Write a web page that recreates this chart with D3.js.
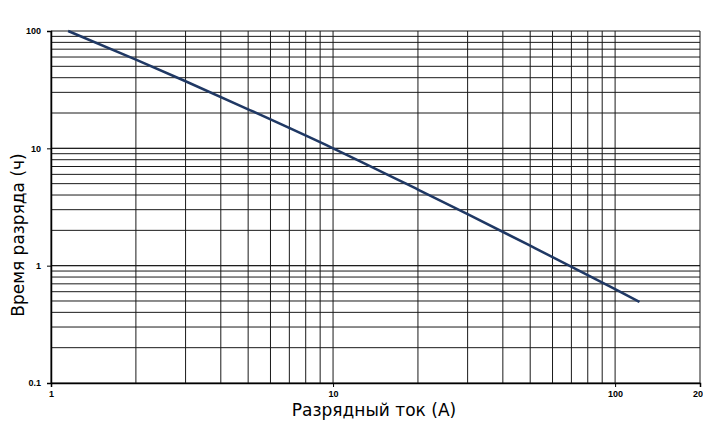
<!DOCTYPE html>
<html>
<head>
<meta charset="utf-8">
<script src="https://cdn.jsdelivr.net/npm/d3@7"></script>
<style>
  body { margin: 0; background: #fff; }
  .tick text { font-family: "Liberation Sans", Arial, sans-serif; font-weight: bold; font-size: 9px; fill: #000; }
  .axisTitle { font-family: "DejaVu Sans", sans-serif; font-size: 17px; fill: #000; }
</style>
</head>
<body>
<div id="chart"></div>
<script>
// Chart data
var currentA = [1.15, 2, 3, 5, 10, 20, 30, 50, 100, 122];
var timeH = [100, 57, 37.3, 21.5, 10, 4.45, 2.75, 1.48, 0.63, 0.49];
var xTickValues = [1, 10, 100, 200];
var yTickValues = [0.1, 1, 10, 100];

var svgWidth = 703;
var svgHeight = 421;

var margin = { top: 31, right: 3, bottom: 38, left: 51 };
var chartWidth = svgWidth - margin.left - margin.right;
var chartHeight = svgHeight - margin.top - margin.bottom;

var svg = d3.select("#chart")
    .append("svg")
    .attr("width", svgWidth)
    .attr("height", svgHeight);

var chartGroup = svg.append("g")
    .attr("transform", `translate(${margin.left}, ${margin.top})`);

var xScale = d3.scaleLog().domain([1, 200]).range([0, chartWidth]);
var yScale = d3.scaleLog().domain([0.1, 100]).range([chartHeight, 0]);

// minor grid values 1..9 per decade
var xGrid = [];
[1, 10, 100].forEach(function (d) {
    for (var i = 1; i <= 9; i++) {
        if (d * i <= 200) xGrid.push(d * i);
    }
});
var yGrid = [];
[0.1, 1, 10].forEach(function (d) {
    for (var i = 1; i <= 10; i++) yGrid.push(+(d * i).toPrecision(3));
});

chartGroup.append("g")
    .selectAll("line")
    .data(xGrid)
    .enter()
    .append("line")
    .attr("x1", d => xScale(d))
    .attr("x2", d => xScale(d))
    .attr("y1", 0)
    .attr("y2", chartHeight)
    .attr("stroke", "#1a1a1a")
    .attr("stroke-width", 1);

chartGroup.append("g")
    .selectAll("line")
    .data(yGrid)
    .enter()
    .append("line")
    .attr("x1", 0)
    .attr("x2", chartWidth)
    .attr("y1", d => yScale(d))
    .attr("y2", d => yScale(d))
    .attr("stroke", "#1a1a1a")
    .attr("stroke-width", 1);

// axes
var bottomAxis = d3.axisBottom(xScale)
    .tickValues(xTickValues)
    .tickFormat(d3.format("d"))
    .tickSize(4)
    .tickPadding(4);
var leftAxis = d3.axisLeft(yScale)
    .tickValues(yTickValues)
    .tickFormat(d => d < 1 ? "0.1" : d3.format("d")(d))
    .tickSize(4)
    .tickPadding(6);

var xAxis = chartGroup.append("g")
    .attr("transform", `translate(0, ${chartHeight})`)
    .call(bottomAxis);
var yAxis = chartGroup.append("g")
    .call(leftAxis);

[xAxis, yAxis].forEach(function (a) {
    a.select(".domain").attr("stroke", "#000").attr("stroke-width", 1.5);
    a.selectAll(".tick line").attr("stroke", "#000");
});

// discharge curve
var line = d3.line()
    .x((d, i) => xScale(currentA[i]))
    .y((d, i) => yScale(timeH[i]))
    .curve(d3.curveMonotoneX);

chartGroup.append("path")
    .datum(currentA)
    .attr("d", line)
    .attr("fill", "none")
    .attr("stroke", "#1f3864")
    .attr("stroke-width", 2.5);

// axis titles
svg.append("text")
    .classed("axisTitle", true)
    .attr("x", 374)
    .attr("y", 416)
    .attr("text-anchor", "middle")
    .text("Разрядный ток (A)");

svg.append("text")
    .classed("axisTitle", true)
    .attr("transform", "translate(24, 235) rotate(-90)")
    .attr("text-anchor", "middle")
    .text("Время разряда (ч)");
</script>
</body>
</html>
